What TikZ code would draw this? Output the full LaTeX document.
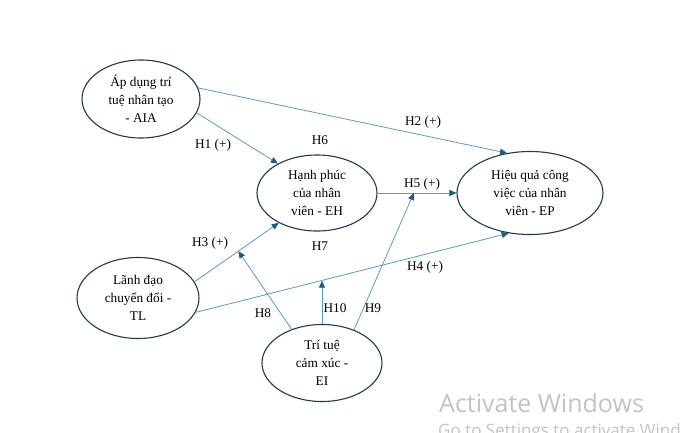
\documentclass[tikz,border=0pt]{standalone}
\usepackage{fontspec}
\setmainfont{Liberation Serif}
\newfontfamily\wmfont{Open Sans}
\usetikzlibrary{arrows.meta,shapes.geometric,calc}
\definecolor{linec}{RGB}{90,156,192}
\definecolor{tipc}{RGB}{28,92,124}
\definecolor{elc}{RGB}{35,58,80}
\definecolor{wmc}{RGB}{195,195,195}
\begin{document}
\begin{tikzpicture}[x=1pt,y=-1pt,
  var/.style={ellipse,draw=elc,line width=1.1pt,inner sep=0pt,align=center,font=\fontsize{13.3}{18}\selectfont},
  conn/.style={draw=linec,line width=0.8pt,-{Triangle[length=7pt,width=6pt,color=tipc]}},
  lab/.style={font=\fontsize{13.3}{15}\selectfont,inner sep=0pt},
  wm/.style={text=wmc,inner sep=0pt,anchor=west}]
\useasboundingbox (0,0) rectangle (680,432);
\fill[white] (0,0) rectangle (680,432);
\node[var,minimum width=118pt,minimum height=78pt] (aia) at (141,99) {Áp dụng trí\\tuệ nhân tạo\\- AIA};
\node[var,minimum width=120pt,minimum height=76pt] (eh) at (317,193) {Hạnh phúc\\của nhân\\viên - EH};
\node[var,minimum width=146pt,minimum height=83pt] (ep) at (530,193) {Hiệu quả công\\việc của nhân\\viên - EP};
\node[var,minimum width=122pt,minimum height=81pt] (tl) at (138,298) {Lãnh đạo\\chuyển đổi -\\TL};
\node[var,minimum width=120pt,minimum height=77pt] (ei) at (322,363) {Trí tuệ\\cảm xúc -\\EI};
\draw[conn] (aia.11) -- (ep.120);
\draw[conn] (aia.-14) -- (eh.143);
\draw[conn] (tl.16) -- (eh.218);
\draw[conn] (tl.-14) -- (ep.242);
\draw[conn] (eh.east) -- (ep.west);
\coordinate (h8e) at ($(tl.16)!0.52!(eh.218)$);
\coordinate (h10e) at ($(tl.-14)!0.40!(ep.242)$);
\coordinate (h9e) at ($(eh.east)!0.46!(ep.west)$);
\draw[conn] (ei.132) -- (h8e);
\draw[conn] (ei.north) -- (ei.north |- h10e);
\draw[conn] (ei.46) -- (h9e);
\node[lab] (l1) at (213,145) {H1 (+)};
\node[lab] (l2) at (423,122) {H2 (+)};
\node[lab] (l3) at (210,243) {H3 (+)};
\node[lab] (l4) at (425,267) {H4 (+)};
\node[lab] (l5) at (422,184) {H5 (+)};
\node[lab] (l6) at (320,140) {H6};
\node[lab] (l7) at (320,246) {H7};
\node[lab] (l8) at (263,313) {H8};
\node[lab] (l9) at (373,308) {H9};
\node[lab] (l10) at (335,308) {H10};
\node[wm,font=\wmfont\fontsize{25}{25}\selectfont] (wm1) at (439,403) {Activate Windows};
\node[wm,font=\wmfont\fontsize{17}{17}\selectfont,anchor=north west] (wm2) at (438,423) {Go to Settings to activate Windows.};
\end{tikzpicture}
\end{document}
